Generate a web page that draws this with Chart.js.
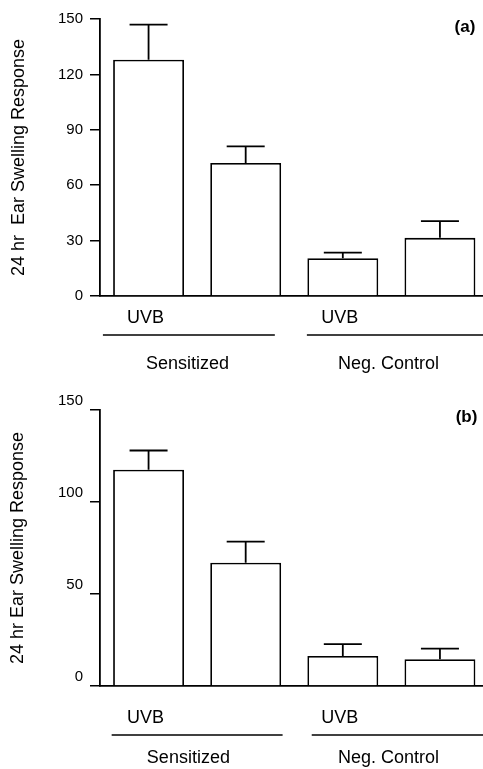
<!DOCTYPE html>
<html>
<head>
<meta charset="utf-8">
<script src="https://cdn.jsdelivr.net/npm/chart.js@4"></script>
<style>
  html, body { margin: 0; padding: 0; background: #fff; overflow: hidden; }
  #wrap { width: 483px; height: 769px; overflow: hidden; position: relative; }
  canvas { display: block; position: absolute; left: 0; }
  #chartA { top: 0; }
  #chartB { top: 385px; }
</style>
</head>
<body>
<div id="wrap">
  <canvas id="chartA" width="490" height="385"></canvas>
  <canvas id="chartB" width="490" height="384"></canvas>
</div>
<script>
// categorie (label sotto le barre) e gruppi
const categories = ['UVB', '', 'UVB', ''];
const groupNames = ['Sensitized', 'Neg. Control'];

// pannello (a)
const valuesA = [128, 72, 20.5, 31.5];
const errorsA = [19, 9, 3, 9];
const ticksA = [0, 30, 60, 90, 120, 150];

// pannello (b)
const valuesB = [117.5, 67, 16.3, 14.5];
const errorsB = [10.5, 11.5, 6.5, 5.8];
const ticksB = [0, 50, 100, 150];

Chart.defaults.font.family = '"Liberation Sans", Arial, Helvetica, sans-serif';
Chart.defaults.color = '#000';

// barre di errore (solo verso l'alto)
const errorBarPlugin = {
    id: 'errorBars',
    afterDatasetsDraw(chart, args, opts) {
        const ctx = chart.ctx;
        const yScale = chart.scales.y;
        const meta = chart.getDatasetMeta(0);
        const data = chart.data.datasets[0].data;
        ctx.save();
        ctx.strokeStyle = '#000';
        ctx.lineWidth = opts.lineWidth || 1.5;
        meta.data.forEach((bar, i) => {
            const top = yScale.getPixelForValue(data[i] + opts.errors[i]);
            ctx.beginPath();
            ctx.moveTo(bar.x, bar.y);
            ctx.lineTo(bar.x, top);
            ctx.moveTo(bar.x - opts.capWidth / 2, top);
            ctx.lineTo(bar.x + opts.capWidth / 2, top);
            ctx.stroke();
        });
        ctx.restore();
    }
};

// linee e nomi dei gruppi sotto l'asse x, più etichetta del pannello
const groupPlugin = {
    id: 'groupLabels',
    afterDraw(chart, args, opts) {
        const ctx = chart.ctx;
        const x = chart.scales.x;
        const bottom = chart.chartArea.bottom;
        const step = x.getPixelForValue(1) - x.getPixelForValue(0);
        const px = v => x.getPixelForValue(0) + v * step;
        ctx.save();
        ctx.strokeStyle = '#000';
        ctx.lineWidth = 1.6;
        ctx.fillStyle = '#000';
        ctx.font = '18px "Liberation Sans", Arial, sans-serif';
        ctx.textAlign = 'center';
        ctx.textBaseline = 'middle';
        opts.groups.forEach((g, i) => {
            const ly = Math.round(bottom + opts.lineY);
            ctx.beginPath();
            ctx.moveTo(px(g.from), ly);
            ctx.lineTo(px(g.to), ly);
            ctx.stroke();
            ctx.fillText(groupNames[i], px(g.center), bottom + opts.textY);
        });
        ctx.font = 'bold 17px "Liberation Sans", Arial, sans-serif';
        ctx.fillText(opts.tag, opts.tagX, opts.tagY);
        ctx.restore();
    }
};

function makeChart(el, cfg) {
    return new Chart(el, {
        type: 'bar',
        data: {
            labels: categories,
            datasets: [{
                data: cfg.values,
                backgroundColor: '#fff',
                borderColor: '#000',
                borderWidth: 1.8,
                barPercentage: 0.73,
                categoryPercentage: 1
            }]
        },
        options: {
            responsive: false,
            animation: false,
            layout: { padding: { top: cfg.top, right: 1.5, bottom: 0, left: 0 } },
            scales: {
                x: {
                    grid: { display: false },
                    border: { color: '#000', width: 1.8 },
                    ticks: { font: { size: 18 }, padding: cfg.uvbPad, labelOffset: -3, maxRotation: 0 },
                    afterFit: s => { s.height = cfg.xHeight; }
                },
                y: {
                    min: 0,
                    max: 150,
                    afterBuildTicks: s => { s.ticks = cfg.ticks.map(v => ({ value: v })); },
                    grid: { drawOnChartArea: false, tickLength: 10, color: '#000', lineWidth: 1.5 },
                    border: { color: '#000', width: 1.8 },
                    ticks: { font: { size: 15 }, padding: 7, labelOffset: cfg.labelOffset },
                    title: {
                        display: true,
                        text: cfg.yTitle,
                        font: { size: 18 },
                        padding: { top: cfg.titlePad, bottom: 0 }
                    },
                    afterFit: s => { s.width = 100; }
                }
            },
            plugins: {
                legend: { display: false },
                tooltip: { enabled: false },
                errorBars: { errors: cfg.errors, capWidth: 38, lineWidth: 1.8 },
                groupLabels: cfg.groups
            }
        },
        plugins: [errorBarPlugin, groupPlugin]
    });
}

makeChart(document.getElementById('chartA'), {
    values: valuesA,
    errors: errorsA,
    ticks: ticksA,
    top: 19,
    xHeight: 89,
    uvbPad: 3,
    labelOffset: 0,
    titlePad: 8,
    yTitle: '24 hr  Ear Swelling Response',
    groups: {
        lineY: 39,
        textY: 68.5,
        tag: '(a)', tagX: 465, tagY: 27.5,
        groups: [
            { from: -0.47, to: 1.30, center: 0.40 },
            { from: 1.63, to: 3.45, center: 2.47 }
        ]
    }
});

makeChart(document.getElementById('chartB'), {
    values: valuesB,
    errors: errorsB,
    ticks: ticksB,
    top: 25,
    xHeight: 83,
    uvbPad: 13,
    labelOffset: -9,
    titlePad: 7.5,
    yTitle: '24 hr Ear Swelling Response',
    groups: {
        lineY: 49,
        textY: 72,
        tag: '(b)', tagX: 466.5, tagY: 32.5,
        groups: [
            { from: -0.38, to: 1.38, center: 0.41 },
            { from: 1.68, to: 3.45, center: 2.47 }
        ]
    }
});
</script>
</body>
</html>
